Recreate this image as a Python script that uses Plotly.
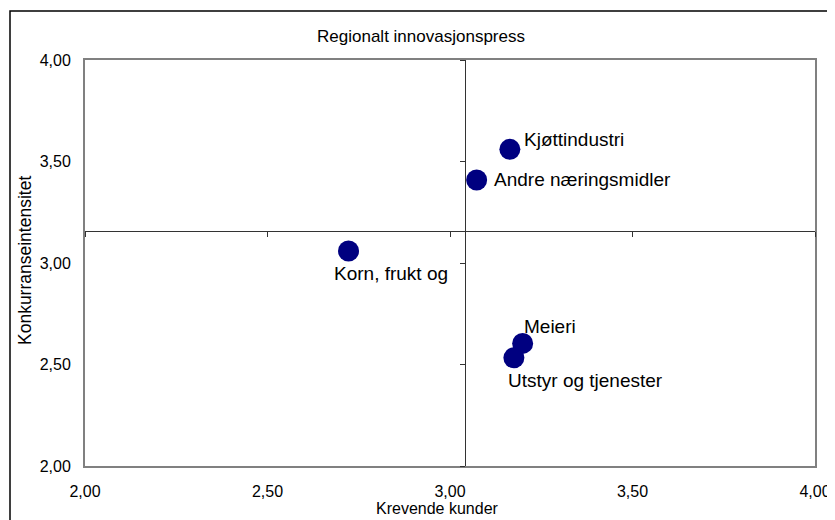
import plotly.graph_objects as go

# Data
names = ["Kjøttindustri", "Andre næringsmidler", "Korn, frukt og", "Meieri", "Utstyr og tjenester"]
krevende_kunder = [3.164, 3.073, 2.722, 3.199, 3.175]
konkurranseintensitet = [3.56, 3.409, 3.059, 2.604, 2.533]
cross_x = 3.04
cross_y = 3.16
tick_vals = [2.0, 2.5, 3.0, 3.5, 4.0]

# Label styling (pixel offsets from marker centre)
label_shift = {
    "Kjøttindustri": (12, 10),
    "Andre næringsmidler": (15, 0),
    "Korn, frukt og": (-17, -22),
    "Meieri": (-1, 17),
    "Utstyr og tjenester": (-8, -23),
}

FONT = "Liberation Sans, Arial, sans-serif"
x_range = [2.0, 4.0]
y_range = [2.0, 4.0]

# The page body adds an 8px offset; the figure is sized to compensate.
OFF = 8
W, H = 835 - OFF, 520 - OFF
PL, PR, PT, PB = 85, 815, 60, 466  # plot area in screen pixels


def px_x(sx):
    return (sx - PL) / (PR - PL)


def px_y(sy):
    return (PB - sy) / (PB - PT)


fig = go.Figure()
fig.add_trace(go.Scatter(
    x=krevende_kunder, y=konkurranseintensitet, mode="markers",
    marker=dict(size=21, color="#000080", line=dict(width=0)),
    hoverinfo="text", text=names, showlegend=False,
))
# invisible trace for the crossing axes
fig.add_trace(go.Scatter(
    x=krevende_kunder, y=konkurranseintensitet, mode="markers",
    marker=dict(size=1, opacity=0), xaxis="x2", yaxis="y2",
    hoverinfo="skip", showlegend=False,
))

for n, xv, yv in zip(names, krevende_kunder, konkurranseintensitet):
    dx, dy = label_shift[n]
    fig.add_annotation(x=xv, y=yv, text=n, showarrow=False, xanchor="left", yanchor="middle",
                       xshift=dx, yshift=dy, font=dict(family=FONT, size=19, color="black"))

fig.update_layout(
    width=W, height=H,
    margin=dict(l=PL - OFF, r=W - (PR - OFF), t=PT - OFF, b=H - (PB - OFF), autoexpand=False),
    paper_bgcolor="white", plot_bgcolor="white",
    separators=",.",
    font=dict(family=FONT, color="black", size=16),
    title=dict(text="Regionalt innovasjonspress", x=(421 - OFF) / W, xref="container", xanchor="center",
               y=1 - (36 - OFF) / H, yref="container", yanchor="middle",
               font=dict(family=FONT, size=17, color="black")),
    xaxis=dict(range=x_range, tickvals=tick_vals, tickformat=".2f", showgrid=False, zeroline=False,
               showline=True, linecolor="#808080", linewidth=2, mirror=True, ticks="",
               ticklabelstandoff=10, tickfont=dict(size=16), automargin=False),
    yaxis=dict(range=y_range, tickvals=tick_vals, tickformat=".2f", showgrid=False, zeroline=False,
               showline=True, linecolor="#808080", linewidth=2, mirror=True, ticks="",
               ticklabelstandoff=9, tickfont=dict(size=16), automargin=False),
    xaxis2=dict(range=x_range, tickvals=tick_vals, overlaying="x", anchor="free",
                position=(cross_y - y_range[0]) / (y_range[1] - y_range[0]),
                showline=True, linecolor="#333333", linewidth=1, ticks="outside", ticklen=5,
                tickcolor="#333333", showticklabels=False, showgrid=False, zeroline=False,
                automargin=False),
    yaxis2=dict(range=y_range, tickvals=tick_vals, overlaying="y", anchor="free", side="left",
                position=(cross_x - x_range[0]) / (x_range[1] - x_range[0]),
                showline=True, linecolor="#333333", linewidth=1, ticks="outside", ticklen=5,
                tickcolor="#333333", showticklabels=False, showgrid=False, zeroline=False,
                automargin=False),
)

# Axis titles
fig.add_annotation(text="Krevende kunder", x=px_x(437), y=px_y(508),
                   xref="paper", yref="paper", showarrow=False, xanchor="center", yanchor="middle",
                   font=dict(family=FONT, size=16, color="black"))
fig.add_annotation(text="Konkurranseintensitet", x=px_x(25), y=px_y(261),
                   xref="paper", yref="paper", showarrow=False, xanchor="center", yanchor="middle",
                   textangle=-90, font=dict(family=FONT, size=17.5, color="black"))

# Outer chart border
fig.add_shape(type="rect", xref="paper", yref="paper",
              x0=px_x(10), x1=px_x(833), y0=px_y(540), y1=px_y(11),
              line=dict(color="black", width=1.5), fillcolor="rgba(0,0,0,0)", layer="below")

fig.write_html("out.html")
